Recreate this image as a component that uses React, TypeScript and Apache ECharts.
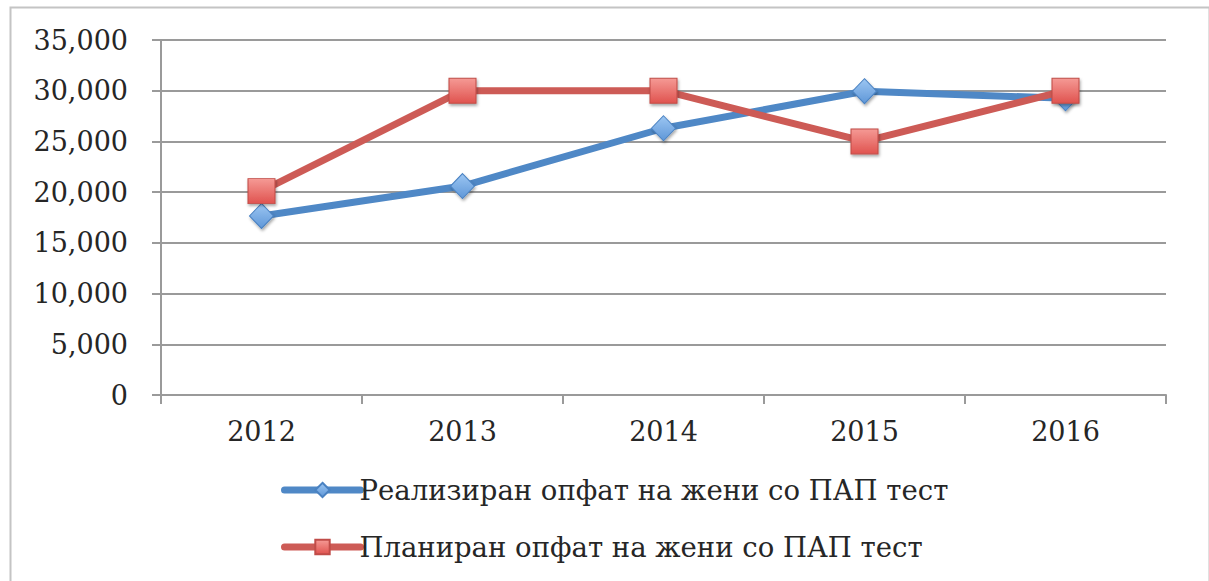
import React, { useEffect, useRef } from "react";
import * as echarts from "echarts";

const years = ["2012", "2013", "2014", "2015", "2016"];
const realized = [17650, 20600, 26300, 29950, 29250];
const planned = [20100, 30000, 30000, 25000, 30000];
const seriesNames = [
  "Реализиран опфат на жени со ПАП тест",
  "Планиран опфат на жени со ПАП тест",
];

const FONT = "'DejaVu Serif', serif";

export default function App() {
  const ref = useRef<HTMLDivElement>(null);
  useEffect(() => {
    if (!ref.current) return;
    const chart = echarts.init(ref.current, undefined, { renderer: "svg" });
    const shadow = {
      shadowBlur: 3,
      shadowColor: "rgba(0,0,0,0.35)",
      shadowOffsetX: 1,
      shadowOffsetY: 2,
    };
    chart.setOption({
      animation: false,
      backgroundColor: "#ffffff",
      graphic: [
        {
          type: "rect",
          left: 8,
          top: 5,
          shape: { x: 0, y: 0, width: 1199, height: 575 },
          style: { fill: "none", stroke: "#c4c4c4", lineWidth: 2 },
          silent: true,
        },
      ],
      grid: { left: 161, right: 43, top: 40, bottom: 186, containLabel: false },
      legend: {
        orient: "vertical",
        left: 276,
        top: 471,
        itemWidth: 76,
        itemHeight: 18,
        itemGap: 29,
        lineStyle: { width: 7, cap: "round" },
        textStyle: {
          fontFamily: FONT,
          fontSize: 27.5,
          lineHeight: 22,
          color: "#262626",
          padding: [0, 0, 0, -6],
        },
        data: seriesNames,
      },
      xAxis: {
        type: "category",
        data: years,
        boundaryGap: true,
        axisLine: { lineStyle: { color: "#9a9a9a", width: 2 } },
        axisTick: { show: true, length: 9, alignWithLabel: false, lineStyle: { color: "#9a9a9a", width: 2 } },
        axisLabel: { fontFamily: FONT, fontSize: 27, color: "#262626", margin: 23 },
        splitLine: { show: false },
      },
      yAxis: {
        type: "value",
        min: 0,
        max: 35000,
        interval: 5000,
        axisLine: { show: true, lineStyle: { color: "#9a9a9a", width: 2 } },
        axisTick: { show: true, length: 9, lineStyle: { color: "#9a9a9a", width: 2 } },
        axisLabel: {
          fontFamily: FONT,
          fontSize: 27,
          color: "#262626",
          margin: 33,
          formatter: (v: number) => v.toLocaleString("en-US"),
        },
        splitLine: { show: true, lineStyle: { color: "#9a9a9a", width: 2 } },
      },
      series: [
        {
          name: seriesNames[0],
          type: "line",
          data: realized,
          symbol: "diamond",
          symbolSize: [24, 25],
          lineStyle: { color: "#4f88c6", width: 7, cap: "round" },
          itemStyle: {
            color: new echarts.graphic.LinearGradient(0, 0, 0, 1, [
              { offset: 0, color: "#9cc6f2" },
              { offset: 1, color: "#5f97d8" },
            ]),
            borderColor: "#4a82c2",
            borderWidth: 1,
            ...shadow,
          },
          z: 2,
        },
        {
          name: seriesNames[1],
          type: "line",
          data: planned,
          symbol: "rect",
          symbolSize: [27, 25],
          lineStyle: { color: "#cd5b56", width: 7, cap: "round" },
          itemStyle: {
            color: new echarts.graphic.LinearGradient(0, 0, 0, 1, [
              { offset: 0, color: "#f59a95" },
              { offset: 1, color: "#e0534f" },
            ]),
            borderColor: "#c04c48",
            borderWidth: 1,
            ...shadow,
          },
          z: 3,
        },
      ],
    });
    return () => chart.dispose();
  }, []);
  return <div ref={ref} style={{ width: 1209, height: 581, position: "absolute", left: 0, top: 0 }} />;
}
